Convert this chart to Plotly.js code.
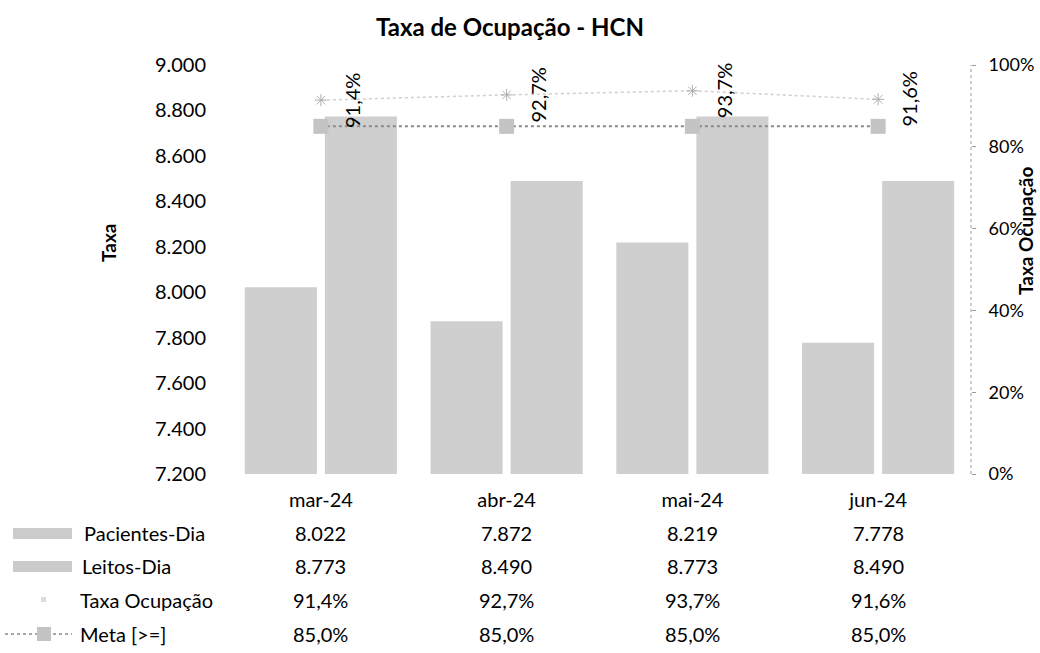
<!DOCTYPE html>
<html><head><meta charset="utf-8">
<script src="https://cdn.plot.ly/plotly-3.0.1.min.js"></script>
<style>body{margin:0;background:#fff}#c{width:1040px;height:653px}</style>
</head><body><div id="c"></div>
<script>
const categories = ['mar-24','abr-24','mai-24','jun-24'];
const pacientesDia = [8022, 7872, 8219, 7778];
const leitosDia = [8773, 8490, 8773, 8490];
const taxaOcupacao = [91.4, 92.7, 93.7, 91.6];
const meta = [85.0, 85.0, 85.0, 85.0];
const rowLabels = ['Pacientes-Dia','Leitos-Dia','Taxa Ocupação','Meta [>=]'];
const leftTicks = [7200,7400,7600,7800,8000,8200,8400,8600,8800,9000];
const rightTicks = [0,20,40,60,80,100];

const FONT = 'Lato, "Open Sans", sans-serif';
const FS = 20;
const fmtInt = n => String(n).replace(/\B(?=(\d{3})+(?!\d))/g,'.');
const fmtPct = v => v.toFixed(1).replace('.',',') + '%';
const BAR = '#cfcfcf';

// plot area in pixels
const L = 228, R = 971, T = 65, B = 474;

const traces = [
  {type:'bar', name:'Pacientes-Dia', x:categories, y:pacientesDia, marker:{color:BAR, line:{width:0}}, yaxis:'y'},
  {type:'bar', name:'Leitos-Dia', x:categories, y:leitosDia, marker:{color:BAR, line:{width:0}}, yaxis:'y'},
  {type:'scatter', mode:'lines+markers', name:'Taxa Ocupação', x:categories, y:taxaOcupacao, yaxis:'y2',
   line:{color:'#cfcfcf', width:1.5, dash:'dot'}, marker:{symbol:'asterisk-open', size:10, color:'#b0b0b0', line:{color:'#b0b0b0', width:1}}},
  {type:'scatter', mode:'lines+markers', name:'Meta [>=]', x:categories, y:meta, yaxis:'y2',
   line:{color:'#8a8a8a', width:2, dash:'dot'}, marker:{symbol:'square', size:15, color:'#c4c4c4', line:{width:0}}}
];

const txt = (s, extra) => Object.assign({text:s, showarrow:false, font:{family:FONT, size:FS, color:'#000'}}, extra);
const annotations = [];
// rotated data labels for taxa
categories.forEach((c,i)=>{
  annotations.push(txt(fmtPct(taxaOcupacao[i]), {x:c, y:taxaOcupacao[i], xref:'x', yref:'y2', textangle:-90,
    xanchor:'center', yanchor:'middle', xshift:31}));
});
// data table
const rows = [pacientesDia.map(fmtInt), leitosDia.map(fmtInt), taxaOcupacao.map(fmtPct), meta.map(fmtPct)];
const rowY = [533, 566, 600, 634];
const rowX = [82, 80, 78, 78];
rows.forEach((r,ri)=>{
  annotations.push(txt(rowLabels[ri], {x:0, y:0, xref:'paper', yref:'paper', xanchor:'left', yanchor:'middle',
    xshift:rowX[ri]-L, yshift:B-rowY[ri]}));
  r.forEach((t,ci)=>{
    annotations.push(txt(t, {x:categories[ci], y:0, xref:'x', yref:'paper', xanchor:'center', yanchor:'middle', yshift:B-rowY[ri]}));
  });
});
// axis titles
annotations.push(txt('<b>Taxa</b>', {x:0, y:0, xref:'paper', yref:'paper', xanchor:'center', yanchor:'middle',
  xshift:108-L, yshift:B-243, textangle:-90, font:{family:FONT, size:19, color:'#000'}}));
annotations.push(txt('<b>Taxa Ocupação</b>', {x:1, y:0, xref:'paper', yref:'paper', xanchor:'center', yanchor:'middle',
  xshift:1025-R, yshift:B-231, textangle:-90, font:{family:FONT, size:19, color:'#000'}}));

const px = (x0,x1,y0,y1,extra) => Object.assign({xref:'paper', yref:'paper', xsizemode:'pixel', ysizemode:'pixel',
  xanchor:0, yanchor:0, x0:x0-L, x1:x1-L, y0:B-y0, y1:B-y1}, extra);
const shapes = [
  {type:'line', xref:'paper', yref:'paper', x0:1, x1:1, y0:0, y1:1, line:{color:'#9a9a9a', width:1, dash:'dot'}},
  px(13,72,528,539,{type:'rect', fillcolor:'#cbcbcb', line:{width:0}}),
  px(13,72,561,572,{type:'rect', fillcolor:'#cbcbcb', line:{width:0}}),
  px(41,46,597,602,{type:'rect', fillcolor:'#dddddd', line:{width:0}}),
  px(5,72,634,634,{type:'line', line:{color:'#8a8a8a', width:1.5, dash:'dot'}}),
  px(37,51,627,641,{type:'rect', fillcolor:'#c4c4c4', line:{width:0}})
];

const layout = {
  width:1040, height:653, paper_bgcolor:'#fff', plot_bgcolor:'#fff',
  margin:{l:L, r:1040-R, t:T, b:653-B},
  separators:',.',
  font:{family:FONT, size:FS, color:'#000'},
  title:{text:'<b>Taxa de Ocupação - HCN</b>', x:510/1040, xref:'container', xanchor:'center', y:1-28/653, yref:'container', yanchor:'middle',
    font:{family:FONT, size:24, color:'#000'}},
  showlegend:false,
  barmode:'group', bargap:0.138, bargroupgap:0.1,
  xaxis:{type:'category', showgrid:false, showline:false, ticks:'', zeroline:false, ticklabelstandoff:12,
    tickfont:{family:FONT, size:FS, color:'#000'}},
  yaxis:{range:[7200,9000], tickvals:leftTicks, tickformat:',.0f', showgrid:false, showline:false, zeroline:false, ticks:'',
    ticklabelstandoff:21, tickfont:{family:FONT, size:FS, color:'#000'}},
  yaxis2:{overlaying:'y', side:'right', range:[0,100], tickvals:rightTicks, ticktext:rightTicks.map(v=>v+'%'),
    showgrid:false, zeroline:false, showline:false, ticks:'outside', ticklen:4, tickcolor:'#9a9a9a',
    ticklabelstandoff:9, tickfont:{family:FONT, size:18, color:'#000'}},
  annotations, shapes
};
Plotly.newPlot('c', traces, layout, {displayModeBar:false, staticPlot:true});
</script></body></html>
